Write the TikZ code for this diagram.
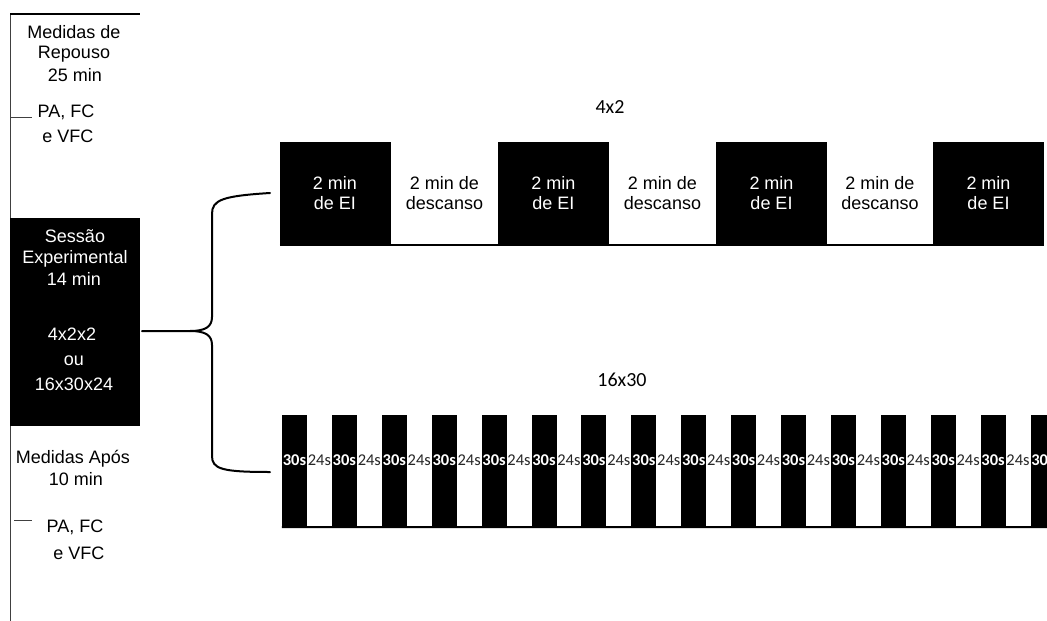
\documentclass[tikz,border=0pt]{standalone}
\usepackage{fontspec}
\setmainfont{Liberation Sans}
\newfontfamily\carl{Carlito}
\begin{document}
\begin{tikzpicture}[x=1pt,y=-1pt,
  lbl/.style={font=\fontsize{18}{21}\selectfont, inner sep=0pt, anchor=base},
  wlbl/.style={lbl, text=white},
  eibox/.style={fill=black, draw=black, text=white, minimum width=110pt, minimum height=103pt,
    inner sep=0pt, align=center, font=\fontsize{18}{20}\selectfont},
  restlbl/.style={align=center, inner sep=0pt, font=\fontsize{18}{20}\selectfont},
  sesbox/.style={fill=black, minimum width=130pt, minimum height=208pt, inner sep=0pt, anchor=north west},
  barbox/.style={fill=black, minimum width=25pt, minimum height=112pt, inner sep=0pt},
  barlbl/.style={font=\carl\bfseries\fontsize{16.5}{16}\selectfont, text=white, inner sep=0pt},
  gaplbl/.style={font=\carl\fontsize{16.5}{16}\selectfont, text=black!85, inner sep=0pt},
  title/.style={font=\carl\fontsize{20}{20}\selectfont, inner sep=0pt},
  brace/.style={line width=2pt, line cap=round},
  base/.style={line width=2pt},
  thinline/.style={line width=0.8pt, draw=black!75}
]
\useasboundingbox (0,0) rectangle (1047,621);
\clip (0,0) rectangle (1047,621);

% ---- left column ----
\coordinate (ltop) at (10,14);
\coordinate (lbot) at (10,621);
\coordinate (ltopr) at (140,14);
\draw[thinline] (ltop) -- (lbot);
\draw[line width=1.4pt] (ltop) -- (ltopr);

\node[lbl] (m1) at (74,38) {Medidas de};
\node[lbl] (m2) at (74,58) {Repouso};
\node[lbl] (m3) at (75,81) {25 min};
\node[lbl] (p1) at (66,117) {PA, FC};
\node[lbl] (p2) at (68,142) {e VFC};
\coordinate (t1a) at (10,117);
\coordinate (t1b) at (32,117);
\draw[thinline] (t1a) -- (t1b);

\node[sesbox] (sess) at (10,218) {};
\node[wlbl] (s1) at (75,242) {Sessão};
\node[wlbl] (s2) at (75,263) {Experimental};
\node[wlbl] (s3) at (74,285) {14 min};
\node[wlbl] (s4) at (72,340) {4x2x2};
\node[wlbl] (s5) at (74,365) {ou};
\node[wlbl] (s6) at (74,390) {16x30x24};

\node[lbl] (a1) at (73,463) {Medidas Após};
\node[lbl] (a2) at (76,485) {10 min};
\coordinate (t2a) at (14,520);
\coordinate (t2b) at (32,520);
\draw[thinline] (t2a) -- (t2b);
\node[lbl] (a3) at (75,532) {PA, FC};
\node[lbl] (a4) at (79,559) {e VFC};

% ---- brace ----
\coordinate (btip) at (142,331);
\coordinate (bmid) at (190,331);
\coordinate (btop) at (270,193);
\coordinate (bbot) at (270,472);
\draw[brace] (btip) -- (bmid) .. controls (205,331) and (212,327) .. (212,317)
  -- (212,214) .. controls (212,200) and (222,196) .. (btop);
\draw[brace] (bmid) .. controls (205,331) and (212,335) .. (212,345)
  -- (212,456) .. controls (212,469) and (222,472) .. (bbot);

% ---- 4x2 row ----
\node[title] (t4x2) at (610,107) {4x2};
\node[eibox] (ei1) at (335,193.5) {2 min\\de EI};
\node[eibox] (ei2) at (553.5,193.5) {2 min\\de EI};
\node[eibox] (ei3) at (771.5,193.5) {2 min\\de EI};
\node[eibox] (ei4) at (988.5,193.5) {2 min\\de EI};
\node[restlbl] (r1) at (444.5,193.5) {2 min de\\descanso};
\node[restlbl] (r2) at (662.5,193.5) {2 min de\\descanso};
\node[restlbl] (r3) at (880,193.5) {2 min de\\descanso};
\draw[base] (ei1.south west) -- (ei4.south east);

% ---- 16x30 row ----
\node[title] (t16) at (622,380) {16x30};
\foreach \i in {1,...,16} {
  \pgfmathsetmacro{\cx}{294.5+(\i-1)*49.9}
  \node[barbox] (bar\i) at (\cx,471) {};
  \node[barlbl] (bl\i) at (\cx,460) {30s};
}
\foreach \i in {1,...,15} {
  \pgfmathsetmacro{\gx}{294.5+(\i-1)*49.9+24.95}
  \node[gaplbl] (gl\i) at (\gx,460) {24s};
}
\coordinate (bend) at (1047,527);
\draw[base] (bar1.south west) -- (bend);
\end{tikzpicture}
\end{document}
